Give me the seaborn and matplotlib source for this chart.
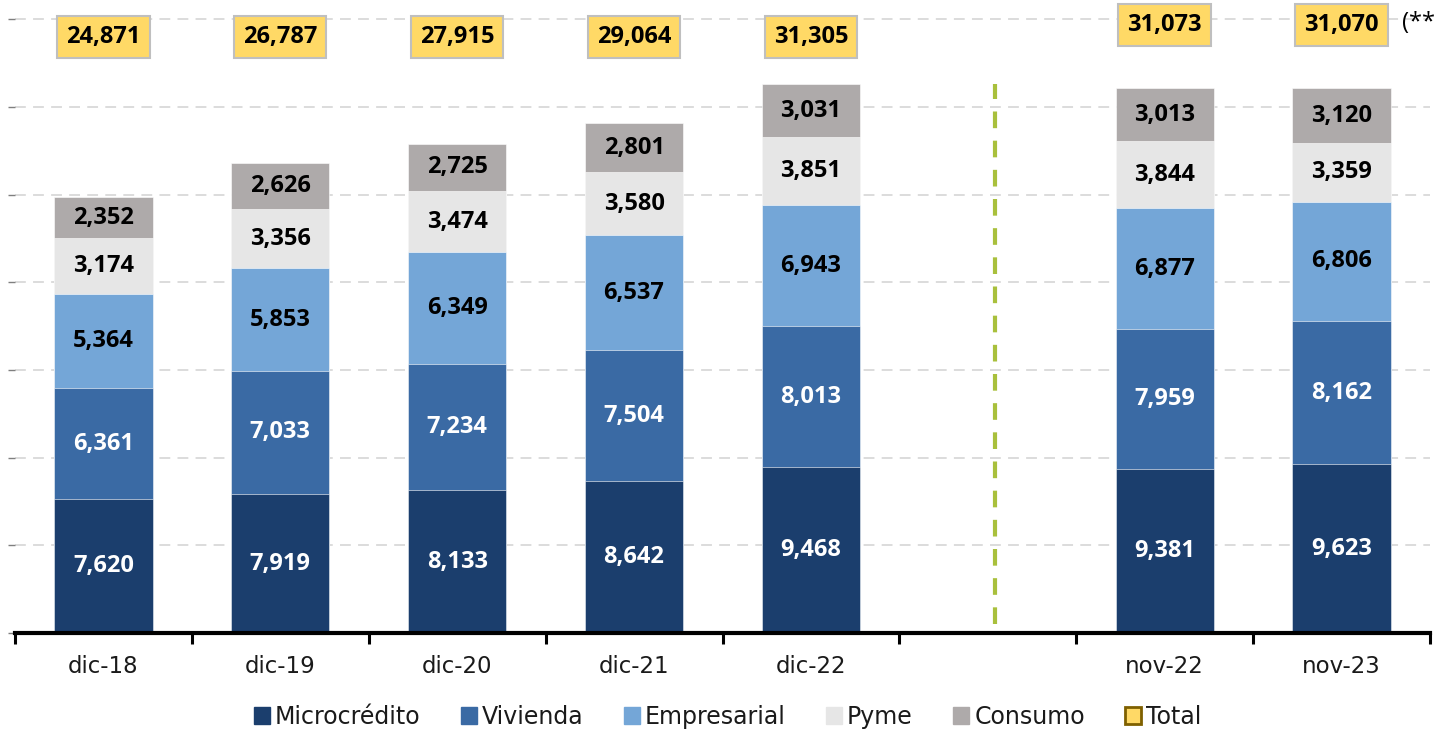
import numpy as np
import pandas as pd
import matplotlib
matplotlib.use("Agg")
import matplotlib.pyplot as plt
from matplotlib.patches import Patch
import seaborn as sns

categories = ["dic-18", "dic-19", "dic-20", "dic-21", "dic-22", "", "nov-22", "nov-23"]
microcredito = [7620, 7919, 8133, 8642, 9468, np.nan, 9381, 9623]
vivienda = [6361, 7033, 7234, 7504, 8013, np.nan, 7959, 8162]
empresarial = [5364, 5853, 6349, 6537, 6943, np.nan, 6877, 6806]
pyme = [3174, 3356, 3474, 3580, 3851, np.nan, 3844, 3359]
consumo = [2352, 2626, 2725, 2801, 3031, np.nan, 3013, 3120]
totales = [24871, 26787, 27915, 29064, 31305, np.nan, 31073, 31070]

series_names = ["Microcrédito", "Vivienda", "Empresarial", "Pyme", "Consumo"]
series_vals = [microcredito, vivienda, empresarial, pyme, consumo]
colors = ["#1B3E6D", "#3A6AA4", "#74A6D7", "#E6E6E6", "#AEAAAA"]
label_colors = ["white", "white", "black", "black", "black"]

sns.set_theme(style="white")
plt.rcParams["font.family"] = ["DejaVu Sans"]
NUMFONT = ["Open Sans", "DejaVu Sans"]

fig = plt.figure(figsize=(14.35, 7.33), dpi=100)
ax = fig.add_axes([15 / 1435, 1 - 633 / 733, 1415 / 1435, 633 / 733])

cum = np.zeros(len(categories))
cums = []
for vals in series_vals:
    cum = cum + np.array(vals, dtype=float)
    cums.append(cum.copy())

# draw from top layer down (cumulative heights) with seaborn
for i in range(len(series_names) - 1, -1, -1):
    d = pd.DataFrame({"cat": categories, "val": cums[i]}).dropna()
    sns.barplot(data=d, x="cat", y="val", order=categories, color=colors[i],
                width=0.555, saturation=1, ax=ax, zorder=3,
                edgecolor="white", linewidth=0.4)

# segment labels
for i, vals in enumerate(series_vals):
    for j, v in enumerate(vals):
        if np.isnan(v):
            continue
        mid = cums[i][j] - v / 2
        ax.text(j, mid, f"{int(v):,}", ha="center", va="center",
                fontsize=17, fontweight="bold", family=NUMFONT,
                color=label_colors[i], zorder=5)

# total boxes
for j, t in enumerate(totales):
    if np.isnan(t):
        continue
    yy = 34700 if j >= 6 else 34000
    ax.text(j, yy, f"{int(t):,}", ha="center", va="center", fontsize=17,
            fontweight="bold", family=NUMFONT, color="black", zorder=6,
            bbox=dict(boxstyle="square,pad=0.38", facecolor="#FFD966",
                      edgecolor="#BFBFBF", linewidth=1.5))

ax.text(7.34, 34800, "(**)", ha="left", va="center", fontsize=17,
        family=NUMFONT, color="black", clip_on=False)

# vertical separator
ax.plot([5.04, 5.04], [500, 31300], color="#A9C03C", linewidth=3,
        linestyle=(0, (4, 3)), zorder=4)

ax.set_xlim(-0.5, 7.5)
ax.set_ylim(0, 36100)
ax.set_yticks(np.arange(0, 36000, 5000))
ax.set_yticklabels([])
ax.yaxis.grid(True, color="#D9D9D9", linestyle=(0, (6, 4)), linewidth=1.3)
ax.set_axisbelow(True)
ax.tick_params(axis="y", which="major", left=True, length=5, width=1,
               color="#7F7F7F", pad=0)

ax.set_xlabel("")
ax.set_ylabel("")
ax.set_xticks(range(len(categories)))
ax.set_xticklabels(categories, fontsize=16.5, color="#1A1A1A")
ax.set_xticks(np.arange(-0.5, 8.0, 1.0), minor=True)
ax.tick_params(axis="x", which="major", length=0, pad=16)
ax.tick_params(axis="x", which="minor", bottom=True, length=8, width=2.2,
               color="black")

for s in ["top", "right", "left"]:
    ax.spines[s].set_visible(False)
ax.spines["bottom"].set_color("black")
ax.spines["bottom"].set_linewidth(3)
ax.spines["bottom"].set_zorder(6)

handles = [Patch(facecolor=c, edgecolor=c) for c in colors]
handles.append(Patch(facecolor="#FFD966", edgecolor="#7F6000", linewidth=2))
labels = series_names + ["Total"]
fig.legend(handles, labels, loc="center", bbox_to_anchor=(0.507, 1 - 717 / 733),
           ncol=6, frameon=False, fontsize=17, handlelength=0.7,
           handleheight=0.7, handletextpad=0.2, columnspacing=1.7,
           labelcolor="#1A1A1A")

fig.savefig("out.png", dpi=100)
